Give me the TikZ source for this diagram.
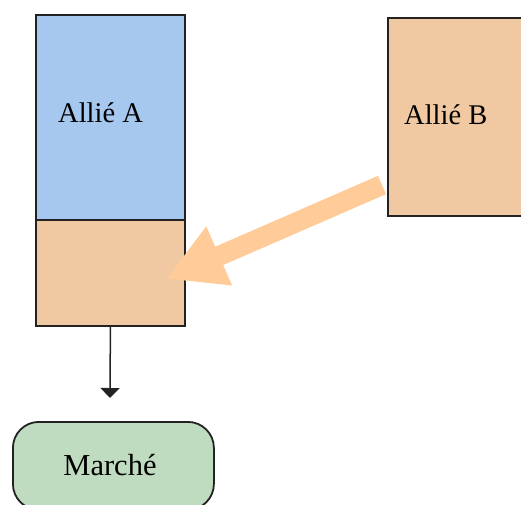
\documentclass[tikz,border=0pt]{standalone}
\usepackage{fontspec}
\setmainfont{Liberation Serif}
\usetikzlibrary{arrows.meta}
\definecolor{bluebox}{HTML}{A6C8EF}
\definecolor{tanbox}{HTML}{F0C8A2}
\definecolor{arrowor}{HTML}{FFCC99}
\definecolor{greenbox}{HTML}{C0DCC0}
\definecolor{edge}{HTML}{222222}
\tikzset{
  box/.style={draw=edge, line width=1.8pt, rectangle, inner sep=0pt, anchor=north west},
  lbl/.style={font=\fontsize{28.5}{30}\selectfont, anchor=base west, inner sep=0pt},
  bigarrow/.style={draw=arrowor, line width=20pt, -{Triangle[width=60pt,length=58pt]}, fill=arrowor},
  smallarrow/.style={draw=edge, line width=1.5pt, -{Triangle[width=19pt,length=10pt]}}
}
\begin{document}
\begin{tikzpicture}[x=1pt,y=-1pt]
\useasboundingbox (0,0) rectangle (521,504);
\clip (0,0) rectangle (521,504);
% Allié A
\node[box, fill=bluebox, minimum width=149pt, minimum height=205pt] (A) at (35,14) {};
\node[box, fill=tanbox, minimum width=149pt, minimum height=106pt] (Alow) at (35,219) {};
\node[lbl] (Atext) at (58,122) {Allié A};
% Allié B
\node[box, fill=tanbox, minimum width=150pt, minimum height=198pt] (B) at (387,17) {};
\node[lbl] (Btext) at (404,124) {Allié B};
% Marché
\node[box, fill=greenbox, rounded corners=26pt, minimum width=201pt, minimum height=88pt] (M) at (12,421) {};
\node[font=\fontsize{30.5}{32}\selectfont, anchor=base, inner sep=0pt] (Mtext) at (110,475) {Marché};
% connectors
\coordinate (bstart) at (382,185);
\coordinate (btip) at (166,279);
\draw[bigarrow] (bstart) -- (btip);
\coordinate (mtop) at (110,398);
\draw[smallarrow] (Alow.south) -- (mtop);
\end{tikzpicture}
\end{document}
